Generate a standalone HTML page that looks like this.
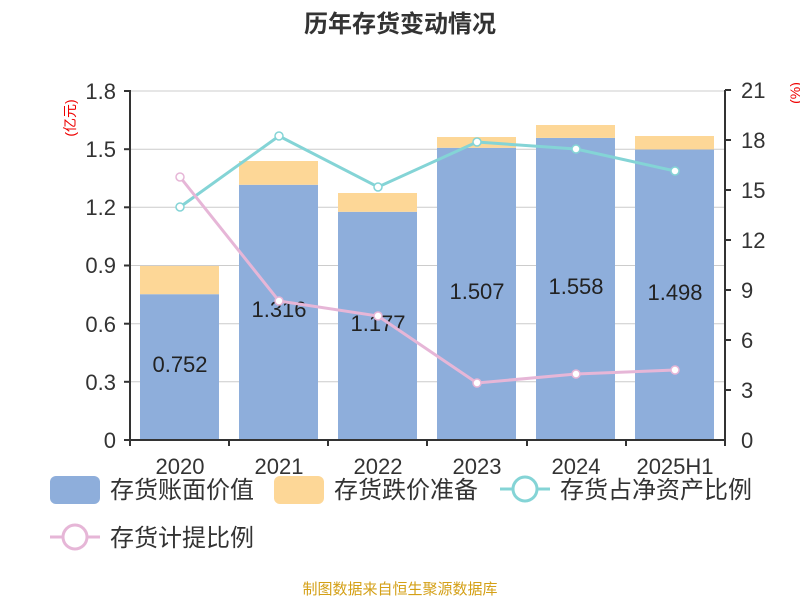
<!DOCTYPE html>
<html><head><meta charset="utf-8"><style>body{margin:0;background:#fff}svg{display:block}text{font-family:"Liberation Sans","Noto Sans CJK SC",sans-serif}</style></head><body>
<svg width="800" height="600" viewBox="0 0 800 600">
<text x="400" y="32" text-anchor="middle" font-size="24" font-weight="bold" fill="#333">历年存货变动情况</text>
<g stroke="#ccc" stroke-width="1">
<line x1="130" x2="725" y1="91" y2="91"/><line x1="130" x2="725" y1="149.2" y2="149.2"/><line x1="130" x2="725" y1="207.3" y2="207.3"/><line x1="130" x2="725" y1="265.5" y2="265.5"/><line x1="130" x2="725" y1="323.7" y2="323.7"/><line x1="130" x2="725" y1="381.8" y2="381.8"/>
</g>
<g fill="#8eaedb">
<rect x="140" y="294.2" width="79" height="145.8"/><rect x="239" y="184.8" width="79" height="255.2"/><rect x="338" y="211.8" width="79" height="228.2"/><rect x="437" y="147.8" width="79" height="292.2"/><rect x="536" y="137.9" width="79" height="302.1"/><rect x="635" y="149.5" width="79" height="290.5"/>
</g>
<g fill="#fdd797">
<rect x="140" y="266" width="79" height="28.2"/><rect x="239" y="161" width="79" height="23.8"/><rect x="338" y="193" width="79" height="18.8"/><rect x="437" y="137" width="79" height="10.8"/><rect x="536" y="125" width="79" height="12.9"/><rect x="635" y="136" width="79" height="13.5"/>
</g>
<g font-size="22" fill="#222" text-anchor="middle">
<text x="180" y="372">0.752</text><text x="279" y="317">1.316</text><text x="378" y="331">1.177</text><text x="477" y="299">1.507</text><text x="576" y="294">1.558</text><text x="675" y="300">1.498</text>
</g>
<g stroke="#333" stroke-width="2" fill="none">
<line x1="130" y1="90" x2="130" y2="440"/><line x1="725" y1="90" x2="725" y2="440"/><line x1="129" y1="440" x2="726" y2="440"/>
<line x1="124" y1="91" x2="130" y2="91"/><line x1="124" y1="149.2" x2="130" y2="149.2"/><line x1="124" y1="207.3" x2="130" y2="207.3"/><line x1="124" y1="265.5" x2="130" y2="265.5"/><line x1="124" y1="323.7" x2="130" y2="323.7"/><line x1="124" y1="381.8" x2="130" y2="381.8"/><line x1="124" y1="440" x2="130" y2="440"/>
<line x1="725" y1="90" x2="731" y2="90"/><line x1="725" y1="140" x2="731" y2="140"/><line x1="725" y1="190" x2="731" y2="190"/><line x1="725" y1="240" x2="731" y2="240"/><line x1="725" y1="290" x2="731" y2="290"/><line x1="725" y1="340" x2="731" y2="340"/><line x1="725" y1="390" x2="731" y2="390"/>
<line x1="130" y1="440" x2="130" y2="446"/><line x1="229" y1="440" x2="229" y2="446"/><line x1="328" y1="440" x2="328" y2="446"/><line x1="427" y1="440" x2="427" y2="446"/><line x1="527" y1="440" x2="527" y2="446"/><line x1="626" y1="440" x2="626" y2="446"/><line x1="725" y1="440" x2="725" y2="446"/>
</g>
<g font-size="22" fill="#333" text-anchor="end">
<text x="116" y="99">1.8</text><text x="116" y="157">1.5</text><text x="116" y="215">1.2</text><text x="116" y="273">0.9</text><text x="116" y="332">0.6</text><text x="116" y="390">0.3</text><text x="116" y="448">0</text>
</g>
<g font-size="22" fill="#333">
<text x="741" y="98">21</text><text x="741" y="148">18</text><text x="741" y="198">15</text><text x="741" y="248">12</text><text x="741" y="298">9</text><text x="741" y="348">6</text><text x="741" y="398">3</text><text x="741" y="448">0</text>
</g>
<g font-size="22" fill="#333" text-anchor="middle">
<text x="180" y="474">2020</text><text x="279" y="474">2021</text><text x="378" y="474">2022</text><text x="477" y="474">2023</text><text x="576" y="474">2024</text><text x="675" y="474">2025H1</text>
</g>
<text transform="translate(75,118) rotate(-90)" text-anchor="middle" font-size="14" fill="#e00">(亿元)</text>
<text transform="translate(800,93) rotate(-90)" text-anchor="middle" font-size="14" fill="#e00">(%)</text>
<polyline points="180,207 279,136 378,187 477,142 576,149 675,171" fill="none" stroke="#84d4d6" stroke-width="3"/>
<g fill="#fff" stroke="#84d4d6" stroke-width="1.5"><circle cx="180" cy="207" r="4"/><circle cx="279" cy="136" r="4"/><circle cx="378" cy="187" r="4"/><circle cx="477" cy="142" r="4"/><circle cx="576" cy="149" r="4"/><circle cx="675" cy="171" r="4"/></g>
<polyline points="180,177 279,301 378,316 477,383 576,374 675,370" fill="none" stroke="#e6b6d7" stroke-width="3"/>
<g fill="#fff" stroke="#e6b6d7" stroke-width="1.5"><circle cx="180" cy="177" r="4"/><circle cx="279" cy="301" r="4"/><circle cx="378" cy="316" r="4"/><circle cx="477" cy="383" r="4"/><circle cx="576" cy="374" r="4"/><circle cx="675" cy="370" r="4"/></g>
<rect x="50" y="476" width="50" height="28" rx="6" fill="#8eaedb"/>
<text x="110" y="498" font-size="24" fill="#333">存货账面价值</text>
<rect x="274" y="476" width="50" height="28" rx="6" fill="#fdd797"/>
<text x="334" y="498" font-size="24" fill="#333">存货跌价准备</text>
<line x1="500" y1="489" x2="550" y2="489" stroke="#84d4d6" stroke-width="3"/>
<circle cx="525" cy="489" r="12" fill="#fff" stroke="#84d4d6" stroke-width="3"/>
<text x="560" y="498" font-size="24" fill="#333">存货占净资产比例</text>
<line x1="50" y1="537" x2="100" y2="537" stroke="#e6b6d7" stroke-width="3"/>
<circle cx="75" cy="537" r="12" fill="#fff" stroke="#e6b6d7" stroke-width="3"/>
<text x="110" y="546" font-size="24" fill="#333">存货计提比例</text>
<text x="400" y="594" text-anchor="middle" font-size="15" fill="#d4a017">制图数据来自恒生聚源数据库</text>
</svg>
</body></html>
